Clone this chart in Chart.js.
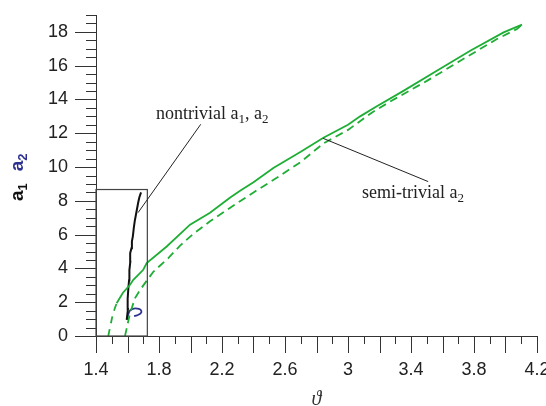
<!DOCTYPE html>
<html>
<head>
<meta charset="utf-8">
<script src="https://cdn.jsdelivr.net/npm/chart.js@4.4.0/dist/chart.umd.min.js"></script>
<style>
html, body { margin: 0; padding: 0; background: #fff; }
</style>
</head>
<body>
<canvas id="myChart" width="546" height="406"></canvas>
<script>
// tick values for both axes
let xTicks = [1.4, 1.8, 2.2, 2.6, 3, 3.4, 3.8, 4.2];
let yTicks = [0, 2, 4, 6, 8, 10, 12, 14, 16, 18];

// semi-trivial a2, stable part (solid)
let semiTheta = [1.531, 1.57, 1.616, 1.637, 1.70, 1.722, 1.849, 1.997, 2.124, 2.25, 2.315, 2.40, 2.526, 2.70, 2.844, 3.0, 3.077, 3.183, 3.352, 3.564, 3.776, 3.988, 4.105];
let semiA = [1.94, 2.55, 3.03, 3.33, 3.92, 4.32, 5.30, 6.59, 7.29, 8.18, 8.6, 9.1, 9.95, 10.9, 11.73, 12.5, 13.0, 13.6, 14.51, 15.7, 16.88, 17.97, 18.43];

// semi-trivial a2, lower branch (dashed)
let lowTheta = [1.478, 1.49, 1.506, 1.518, 1.531];
let lowA = [0, 0.55, 1.25, 1.6, 1.94];

// second dashed branch
let dashTheta = [1.584, 1.595, 1.616, 1.648, 1.68, 1.711, 1.764, 1.859, 1.934, 2.018, 2.124, 2.25, 2.40, 2.548, 2.70, 2.844, 3.0, 3.151, 3.268, 3.501, 3.713, 3.946, 4.073, 4.105];
let dashA = [0, 0.45, 1.35, 2.24, 2.73, 3.13, 3.8, 4.61, 5.35, 6.05, 6.79, 7.58, 8.5, 9.36, 10.3, 11.4, 12.2, 13.22, 13.88, 15.1, 16.29, 17.58, 18.17, 18.43];

// nontrivial a1 (black, jagged)
let a1Theta = [1.595, 1.603, 1.601, 1.606, 1.610, 1.612, 1.618, 1.617, 1.625, 1.628, 1.634, 1.640, 1.646, 1.652, 1.660, 1.668, 1.675, 1.686];
let a1Val = [0.95, 1.6, 2.2, 2.9, 3.3, 3.9, 4.4, 4.9, 5.2, 5.6, 5.9, 6.4, 6.8, 7.1, 7.5, 7.9, 8.2, 8.5];

// nontrivial a2 (blue hook)
let a2Theta = [1.600, 1.604, 1.615, 1.640, 1.672, 1.688, 1.682, 1.660, 1.642];
let a2Val = [0.95, 1.25, 1.5, 1.62, 1.6, 1.48, 1.32, 1.22, 1.18];

// box around the nontrivial region
let boxTheta = [1.4, 1.726];
let boxA = [0, 8.67];

function pts(xs, ys) {
    return xs.map((x, i) => ({x: x, y: ys[i]}));
}

const green = '#1fae35';

// ticks, box, annotations and axis titles
const extras = {
    id: 'extras',
    afterDatasetsDraw(chart) {
        const ctx = chart.ctx;
        const xs = chart.scales.x, ys = chart.scales.y;
        const axY = ys.getPixelForValue(0);
        const axX = xs.getPixelForValue(1.4);
        ctx.save();
        ctx.strokeStyle = '#333';
        ctx.lineWidth = 1;
        ctx.beginPath();
        for (let i = 14; i <= 42; i++) {
            const px = Math.round(xs.getPixelForValue(i / 10)) + 0.5;
            const len = i % 2 === 0 ? 17 : 8;
            ctx.moveTo(px, axY);
            ctx.lineTo(px, axY + len);
        }
        for (let i = 0; i <= 38; i++) {
            const py = Math.round(ys.getPixelForValue(i / 2)) + 0.5;
            const len = i % 4 === 0 ? 21 : 10;
            ctx.moveTo(axX, py);
            ctx.lineTo(axX - len, py);
        }
        ctx.stroke();

        // box
        const bx0 = xs.getPixelForValue(boxTheta[0]), bx1 = xs.getPixelForValue(boxTheta[1]);
        const by0 = ys.getPixelForValue(boxA[0]), by1 = ys.getPixelForValue(boxA[1]);
        ctx.strokeStyle = '#444';
        ctx.lineWidth = 1.2;
        ctx.strokeRect(bx0, by1, bx1 - bx0, by0 - by1);

        // leader lines
        ctx.strokeStyle = '#222';
        ctx.lineWidth = 1;
        ctx.beginPath();
        ctx.moveTo(xs.getPixelForValue(2.065), ys.getPixelForValue(12.53));
        ctx.lineTo(xs.getPixelForValue(1.667), ys.getPixelForValue(7.3));
        ctx.moveTo(xs.getPixelForValue(2.842), ys.getPixelForValue(11.7));
        ctx.lineTo(xs.getPixelForValue(3.509), ys.getPixelForValue(9.14));
        ctx.stroke();

        // annotation text
        ctx.fillStyle = '#222';
        ctx.textBaseline = 'alphabetic';
        function sub(parts, x, y, big, small, fam, col) {
            for (const [t, isSub] of parts) {
                ctx.font = (isSub ? small : big) + 'px ' + fam;
                if (col) ctx.fillStyle = col;
                ctx.fillText(t, x, isSub ? y + 4 : y);
                x += ctx.measureText(t).width;
            }
            return x;
        }
        const serif = '"Liberation Serif", "Times New Roman", serif';
        sub([['nontrivial a', false], ['1', true], [', a', false], ['2', true]], 156, 119, 18, 13, serif);
        sub([['semi-trivial a', false], ['2', true]], 362, 198, 18, 13, serif);

        // x title
        ctx.font = 'italic 20px ' + serif;
        ctx.fillStyle = '#333';
        ctx.textAlign = 'center';
        ctx.fillText('\u03d1', (chart.chartArea.left + chart.chartArea.right) / 2, 405);

        // y title, rotated
        ctx.textAlign = 'left';
        ctx.translate(23, 201);
        ctx.rotate(-Math.PI / 2);
        const sans = '"Liberation Sans", Arial, sans-serif';
        let x = sub([['a', false], ['1', true]], 0, 0, 'bold 19', 'bold 13', sans, '#111');
        sub([['a', false], ['2', true]], x + 12, 0, 'bold 19', 'bold 13', sans, '#2e3192');
        ctx.restore();
    }
};

const chart = document.getElementById('myChart').getContext('2d');
const myChart = new Chart(chart, {
    type: 'scatter',
    data: {
        datasets: [
            {
                label: 'semi-trivial a2',
                data: pts(semiTheta, semiA),
                showLine: true,
                borderColor: green,
                borderWidth: 1.8,
                pointRadius: 0
            },
            {
                label: 'semi-trivial a2 lower',
                data: pts(lowTheta, lowA),
                showLine: true,
                borderColor: green,
                borderWidth: 1.8,
                borderDash: [7, 6],
                pointRadius: 0
            },
            {
                label: 'semi-trivial a2 dashed',
                data: pts(dashTheta, dashA),
                showLine: true,
                borderColor: green,
                borderWidth: 1.8,
                borderDash: [8, 5],
                pointRadius: 0
            },
            {
                label: 'nontrivial a1',
                data: pts(a1Theta, a1Val),
                showLine: true,
                borderColor: '#111',
                borderWidth: 2,
                pointRadius: 0
            },
            {
                label: 'nontrivial a2',
                data: pts(a2Theta, a2Val),
                showLine: true,
                borderColor: '#2e3192',
                borderWidth: 1.8,
                tension: 0.3,
                pointRadius: 0
            }
        ]
    },
    options: {
        responsive: false,
        animation: false,
        layout: { padding: { top: 15, right: 9, left: 0, bottom: 0 } },
        plugins: {
            legend: { display: false },
            tooltip: { enabled: false }
        },
        scales: {
            x: {
                type: 'linear',
                min: 1.4,
                max: 4.2,
                afterBuildTicks: (s) => { s.ticks = xTicks.map(v => ({value: v})); },
                afterFit: (s) => { s.height = 70; s.paddingLeft = 0; s.paddingRight = 0; },
                ticks: {
                    autoSkip: false,
                    maxRotation: 0,
                    padding: 6,
                    color: '#222',
                    font: { family: '"Liberation Sans", Arial, sans-serif', size: 18 },
                    callback: (v) => String(+v.toFixed(1))
                },
                grid: { drawOnChartArea: false, drawTicks: true, tickLength: 17, tickColor: 'rgba(0,0,0,0)' },
                border: { display: true, color: '#333', width: 1 }
            },
            y: {
                type: 'linear',
                min: 0,
                max: 19,
                afterBuildTicks: (s) => { s.ticks = yTicks.map(v => ({value: v})); },
                afterFit: (s) => { s.width = 96; s.paddingTop = 0; s.paddingBottom = 0; },
                ticks: {
                    autoSkip: false,
                    padding: 7,
                    color: '#222',
                    font: { family: '"Liberation Sans", Arial, sans-serif', size: 18 }
                },
                grid: { drawOnChartArea: false, drawTicks: true, tickLength: 21, tickColor: 'rgba(0,0,0,0)' },
                border: { display: true, color: '#333', width: 1 }
            }
        }
    },
    plugins: [extras]
});
</script>
</body>
</html>
